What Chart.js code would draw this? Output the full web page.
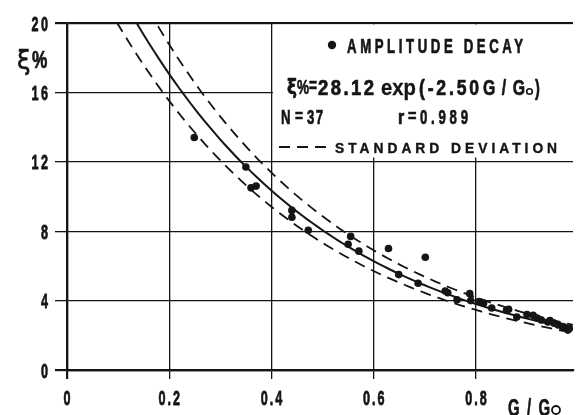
<!DOCTYPE html>
<html>
<head>
<meta charset="utf-8">
<script src="https://cdn.jsdelivr.net/npm/chart.js@4.4.1/dist/chart.umd.min.js"></script>
<style>
  html, body { margin: 0; padding: 0; background: #fff; }
  canvas { display: block; }
</style>
</head>
<body>
<canvas id="decay" width="577" height="415"></canvas>
<script>
// amplitude decay tests: G/Go and damping ratio in %
const ratioG = [0.249, 0.35, 0.36, 0.37, 0.44, 0.44, 0.472, 0.555, 0.55, 0.571,
                0.629, 0.649, 0.701, 0.687, 0.74, 0.745, 0.763, 0.788, 0.79, 0.806,
                0.815, 0.831, 0.86, 0.864, 0.88, 0.9, 0.912, 0.92, 0.928, 0.941,
                0.945, 0.953, 0.961, 0.97, 0.975, 0.98, 0.983];
const dampPct = [13.4, 11.7, 10.5, 10.6, 9.2, 8.8, 8.05, 7.7, 7.25, 6.85,
                 7.0, 5.5, 6.5, 5.0, 4.55, 4.45, 4.05, 4.4, 4.0, 3.95,
                 3.85, 3.57, 3.45, 3.5, 3.05, 3.2, 3.15, 3.0, 2.88, 2.77,
                 2.85, 2.7, 2.6, 2.5, 2.45, 2.3, 2.4];

const xTicks = [0, 0.2, 0.4, 0.6, 0.8];
const yTicks = [0, 4, 8, 12, 16, 20];

// regression  xi% = 28.12 exp(-2.50 G/Go), band = one standard deviation (log)
const fitA = 28.12;
const fitB = 2.50;
const sdLog = 0.095;

const fitX = [];
for (let i = 8; i <= 99; i++) fitX.push(i / 100);
const fitLine = fitX.map(g => ({ x: g, y: fitA * Math.exp(-fitB * g) }));
const sdUpper = fitX.map(g => ({ x: g, y: fitA * Math.exp(sdLog - fitB * g) }));
const sdLower = fitX.map(g => ({ x: g, y: fitA * Math.exp(-sdLog - fitB * g) }));
const points = ratioG.map((g, i) => ({ x: g, y: dampPct[i] }));

const SANS = '"Liberation Sans", Arial, sans-serif';
const INK = '#151515';

const fmtX = v => v === 0 ? '0' : v.toFixed(1);
const fmtY = v => String(v);

// paint text, optionally fattened with an outline of the same colour
function paint(ctx, str, thick) {
  ctx.fillText(str, 0, 0);
  if (thick > 0) {
    ctx.lineWidth = thick;
    ctx.lineJoin = 'round';
    ctx.strokeText(str, 0, 0);
  }
}

// condensed lettering: squeeze glyphs horizontally, then spread them to span x0..x1
function fitText(ctx, str, x0, x1, y, font, squeeze = 1, thick = 0.7) {
  ctx.save();
  ctx.font = font;
  ctx.letterSpacing = '0px';
  ctx.textAlign = 'left';
  ctx.textBaseline = 'alphabetic';
  const w = ctx.measureText(str).width;
  const n = Math.max(str.length - 1, 1);
  let gap = ((x1 - x0) / squeeze - w) / n;
  if (gap < 0) { squeeze = (x1 - x0) / w; gap = 0; }
  ctx.translate(x0, y);
  ctx.scale(squeeze, 1);
  ctx.letterSpacing = gap.toFixed(2) + 'px';
  paint(ctx, str, thick);
  ctx.restore();
}

// condensed lettering with a fixed actual gap; align 'left' | 'center' | 'right'
function narrowText(ctx, str, x, y, font, squeeze, gap, align, thick = 0.8) {
  ctx.save();
  ctx.font = font;
  ctx.letterSpacing = '0px';
  const w = ctx.measureText(str).width * squeeze + gap * (str.length - 1);
  const x0 = align === 'center' ? x - w / 2 : align === 'right' ? x - w : x;
  ctx.textAlign = 'left';
  ctx.textBaseline = 'alphabetic';
  ctx.translate(x0, y);
  ctx.scale(squeeze, 1);
  ctx.letterSpacing = (gap / squeeze).toFixed(2) + 'px';
  paint(ctx, str, thick);
  ctx.restore();
}

const annotate = {
  id: 'annotate',
  beforeDatasetsDraw(chart) {
    // blank panel behind the key
    const { ctx, chartArea: a, scales: { x } } = chart;
    const left = x.getPixelForValue(0.4) + 1.5;
    ctx.save();
    ctx.fillStyle = '#fff';
    ctx.fillRect(left, a.top + 1.5, a.right - left, 133);
    ctx.restore();
  },
  afterDraw(chart) {
    const { ctx, scales: { x, y } } = chart;
    ctx.save();
    ctx.fillStyle = INK;
    ctx.strokeStyle = INK;

    // tick labels
    const tickFont = 'bold 21px ' + SANS;
    y.ticks.forEach(t => {
      narrowText(ctx, fmtY(t.value), 48, y.getPixelForValue(t.value) + 7.5, tickFont, 0.6, 2.5, 'right');
    });
    x.ticks.forEach(t => {
      narrowText(ctx, fmtX(t.value), x.getPixelForValue(t.value), 405, tickFont, 0.6, 2, 'center');
    });

    // key
    ctx.beginPath();
    ctx.arc(332, 45, 4.2, 0, Math.PI * 2);
    ctx.fill();
    fitText(ctx, 'AMPLITUDE DECAY', 347, 523, 52.5, 'bold 20px ' + SANS, 0.66);

    fitText(ctx, 'ξ', 287, 297, 94, 'bold 21px "DejaVu Sans", sans-serif', 0.8);
    fitText(ctx, '%', 297, 309, 94, 'bold 21px ' + SANS, 0.7);
    fitText(ctx, '=', 309, 317, 92, 'bold 20px ' + SANS, 0.8);
    fitText(ctx, '28.12', 318, 374, 95, 'bold 22px ' + SANS, 0.84);
    fitText(ctx, 'exp', 381, 416, 95, 'bold 22px ' + SANS, 0.95, 0.3);
    fitText(ctx, '(-2.50', 419, 479, 95, 'bold 22px ' + SANS, 0.8);
    fitText(ctx, 'G/G', 483, 525, 95, 'bold 22px ' + SANS, 0.72);
    ctx.lineWidth = 1.6;
    ctx.beginPath();
    ctx.arc(529.5, 91.5, 2.8, 0, Math.PI * 2);
    ctx.stroke();
    fitText(ctx, ')', 535, 540, 95, 'bold 22px ' + SANS, 0.66);

    fitText(ctx, 'N', 281, 291, 124, 'bold 20px ' + SANS, 0.66);
    fitText(ctx, '=', 295, 303, 122, 'bold 18px ' + SANS, 0.8);
    fitText(ctx, '37', 307, 323, 124, 'bold 20px ' + SANS, 0.66);
    fitText(ctx, 'r', 398, 405, 124, 'bold 20px ' + SANS, 0.8);
    fitText(ctx, '=', 408, 417, 122, 'bold 18px ' + SANS, 0.8);
    fitText(ctx, '0.989', 420, 468, 124, 'bold 20px ' + SANS, 0.66);

    ctx.lineWidth = 2;
    ctx.setLineDash([11, 7]);
    ctx.beginPath();
    ctx.moveTo(279, 147);
    ctx.lineTo(332, 147);
    ctx.stroke();
    ctx.setLineDash([]);
    fitText(ctx, 'STANDARD DEVIATION', 335, 557, 152.5, 'bold 14.5px ' + SANS, 0.95, 0.4);

    // axis titles
    fitText(ctx, 'ξ', 17, 31, 69, '27px "DejaVu Sans", sans-serif', 0.9, 0.6);
    fitText(ctx, '%', 32, 53, 68, 'bold 23px ' + SANS, 0.75);
    fitText(ctx, 'G / G', 508, 550, 416, 'bold 24px ' + SANS, 0.62);
    ctx.lineWidth = 1.8;
    ctx.beginPath();
    ctx.arc(556, 410, 4, 0, Math.PI * 2);
    ctx.stroke();

    ctx.restore();
  }
};

const gridWidth = c => (c.tick && (c.tick.value === 20 || c.tick.value === 0)) ? 2.2 : 1.3;

new Chart(document.getElementById('decay'), {
  type: 'scatter',
  data: {
    datasets: [
      {
        label: 'Amplitude decay',
        data: points,
        backgroundColor: INK,
        borderWidth: 0,
        pointRadius: 3.8
      },
      {
        label: 'fit',
        data: fitLine,
        showLine: true,
        borderColor: INK,
        borderWidth: 2,
        pointRadius: 0
      },
      {
        label: '+1 SD',
        data: sdUpper,
        showLine: true,
        borderColor: INK,
        borderWidth: 1.8,
        borderDash: [11, 7],
        pointRadius: 0
      },
      {
        label: '-1 SD',
        data: sdLower,
        showLine: true,
        borderColor: INK,
        borderWidth: 1.8,
        borderDash: [11, 7],
        pointRadius: 0
      }
    ]
  },
  options: {
    responsive: false,
    animation: false,
    devicePixelRatio: 1,
    layout: { padding: { top: 23, left: 0, right: 0, bottom: 0 } },
    plugins: {
      legend: { display: false },
      tooltip: { enabled: false }
    },
    scales: {
      x: {
        type: 'linear',
        min: 0,
        max: 0.99,
        afterFit: s => { s.height = 45; },
        afterBuildTicks: s => { s.ticks = xTicks.map(v => ({ value: v })); },
        grid: { color: INK, lineWidth: gridWidth, tickLength: 9, tickColor: INK },
        border: { display: true, color: INK, width: 2.2 },
        ticks: { display: false }
      },
      y: {
        min: 0,
        max: 20,
        afterFit: s => { s.width = 67; },
        afterBuildTicks: s => { s.ticks = yTicks.map(v => ({ value: v })); },
        grid: { color: INK, lineWidth: gridWidth, tickLength: 12, tickColor: INK },
        border: { display: true, color: INK, width: 2.2 },
        ticks: { display: false }
      }
    }
  },
  plugins: [annotate]
});
</script>
</body>
</html>
